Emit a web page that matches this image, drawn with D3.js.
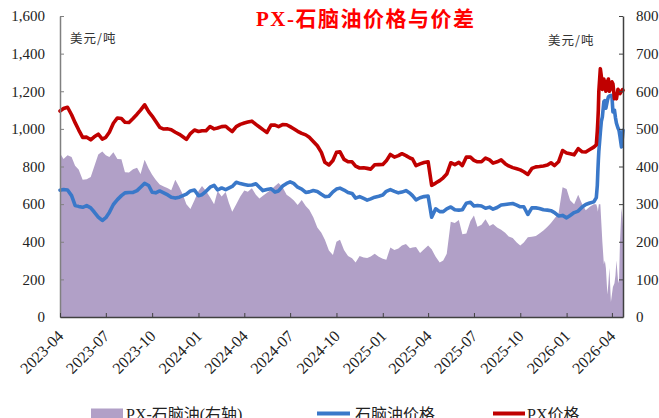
<!DOCTYPE html>
<html><head><meta charset="utf-8">
<script src="https://cdn.jsdelivr.net/npm/d3@7/dist/d3.min.js"></script>
<style>body{margin:0;background:#fff}svg{display:block}</style>
</head><body>
<svg id="chart" width="659" height="418"></svg>
<script>
// ---------------- data ----------------
const dates = [
"2023-04-01","2023-04-08","2023-04-16","2023-04-24","2023-05-01","2023-05-08","2023-05-16","2023-05-24",
"2023-06-01","2023-06-08","2023-06-16","2023-06-24","2023-07-01","2023-07-08","2023-07-16","2023-07-24",
"2023-08-01","2023-08-08","2023-08-16","2023-08-24","2023-09-01","2023-09-08","2023-09-16","2023-09-24",
"2023-10-01","2023-10-08","2023-10-16","2023-10-24","2023-11-01","2023-11-08","2023-11-16","2023-11-24",
"2023-12-01","2023-12-08","2023-12-16","2023-12-24","2024-01-01","2024-01-08","2024-01-16","2024-01-24",
"2024-02-01","2024-02-08","2024-02-16","2024-02-24","2024-03-01","2024-03-08","2024-03-16","2024-03-24",
"2024-04-01","2024-04-08","2024-04-16","2024-04-24","2024-05-01","2024-05-08","2024-05-16","2024-05-24",
"2024-06-01","2024-06-08","2024-06-16","2024-06-24","2024-07-01","2024-07-08","2024-07-16","2024-07-24",
"2024-08-01","2024-08-08","2024-08-16","2024-08-24","2024-09-01","2024-09-08","2024-09-16","2024-09-24",
"2024-10-01","2024-10-08","2024-10-16","2024-10-24","2024-11-01","2024-11-08","2024-11-16","2024-11-24",
"2024-12-01","2024-12-08","2024-12-16","2024-12-24","2025-01-01","2025-01-08","2025-01-16","2025-01-24",
"2025-02-01","2025-02-08","2025-02-16","2025-02-24","2025-03-01","2025-03-08","2025-03-16","2025-03-24",
"2025-04-01","2025-04-08","2025-04-16","2025-04-24","2025-05-01","2025-05-08","2025-05-16","2025-05-24",
"2025-06-01","2025-06-08","2025-06-16","2025-06-24","2025-07-01","2025-07-08","2025-07-16","2025-07-24",
"2025-08-01","2025-08-08","2025-08-16","2025-08-24","2025-09-01","2025-09-08","2025-09-16","2025-09-24",
"2025-10-01","2025-10-08","2025-10-16","2025-10-24","2025-11-01","2025-11-08","2025-11-16","2025-11-24",
"2025-12-01","2025-12-08","2025-12-16","2025-12-24","2026-01-01","2026-01-08","2026-01-16","2026-01-24",
"2026-02-01","2026-02-08","2026-02-16","2026-02-24",
"2026-03-01","2026-03-03","2026-03-04","2026-03-05","2026-03-06","2026-03-09","2026-03-11","2026-03-13",
"2026-03-16","2026-03-18","2026-03-20","2026-03-23","2026-03-25","2026-03-27","2026-03-30","2026-04-01",
"2026-04-03","2026-04-06","2026-04-08","2026-04-10","2026-04-13","2026-04-15","2026-04-17","2026-04-20",
"2026-04-22","2026-04-23"
];

const pxPrice = [
1095,1108,1115,1075, 1033,995,955,956, 942,958,972,946, 955,982,1030,1058,
1055,1035,1034,1055, 1078,1100,1128,1092, 1068,1040,1008,999, 1000,995,982,971,
958,944,975,994, 986,990,990,1012, 1000,1005,1012,1014, 1000,986,1012,1024,
1031,1036,1041,1024, 1010,996,981,1020, 1020,1012,1023,1022, 1012,1001,987,976,
968,955,933,910, 875,822,808,832, 875,878,838,825, 825,802,792,793,
790,786,809,810, 811,830,864,850, 858,868,858,845, 840,805,814,821,
825,700,712,725, 740,760,820,810, 822,805,850,850, 833,825,825,845,
835,818,825,835, 815,803,794,788, 782,772,758,790, 798,800,803,808,
820,805,825,885, 872,868,862,895, 878,877,890,903,
915,990,1040,1100,1200,1320,1280,1210, 1265,1240,1200,1250,1265,1200,1220,1250,
1240,1160,1170,1160,1210,1200,1188,1200, 1209,1205
];

const naphthaPrice = [
674,678,675,645, 593,588,583,592, 580,558,531,513, 528,556,598,624,
645,660,662,662, 672,690,710,699, 663,660,670,660, 649,636,632,637,
645,653,670,675, 645,650,668,690, 700,675,686,677, 685,694,716,709,
704,700,702,708, 690,672,678,682, 664,670,696,710, 718,710,690,680,
662,665,672,667, 652,640,642,665, 680,685,675,662, 657,632,640,630,
621,628,637,642, 648,668,677,668, 660,664,672,658, 645,623,634,640,
643,530,575,560, 560,575,585,570, 568,570,605,610, 590,593,590,578,
584,573,582,595, 598,601,603,595, 586,586,545,580, 580,577,570,568,
565,555,537,540, 527,540,555,563, 585,598,606,612,
635,700,770,830,880,980,1040,1064, 1145,1150,1110,1150,1170,1175,1178,1175,
1090,1100,1060,1030,1005,993,960,904, 960,993
];

const spread = [
435,420,430,425, 402,392,365,366, 372,400,432,440, 430,425,438,420,
419,385,384,393, 397,380,418,395, 378,365,352,347, 342,337,365,345,
325,300,287,310, 335,348,335,318, 300,335,320,332, 305,280,300,320,
336,333,342,325, 315,322,330,338, 348,356,345,325, 318,310,298,311,
295,285,265,238, 224,205,177,165, 200,205,178,162, 156,145,162,158,
157,161,168,160, 155,152,185,178, 182,190,194,183, 185,186,170,180,
190,180,160,145, 150,168,253,250, 258,220,222,255, 270,240,245,260,
242,247,238,232, 224,214,210,198, 190,198,212,213, 215,222,230,240,
250,262,275,345, 340,310,300,325, 300,284,293,300,
300,290,280,290,300,300,250,200, 140,150,130,60,90,130,40,60,
80,90,110,150,100,90,200,290, 265,240
];

const leftTicks = [0,200,400,600,800,1000,1200,1400,1600];
const rightTicks = [0,100,200,300,400,500,600,700,800];
const xTickLabels = ["2023-04","2023-07","2023-10","2024-01","2024-04","2024-07",
  "2024-10","2025-01","2025-04","2025-07","2025-10","2026-01","2026-04"];
const seriesNames = ["PX-石脑油(右轴)","石脑油价格","PX价格"];
const xStart = "2023-04-01", xEnd = "2026-04-23";

// ---------------- chart ----------------
const svg = d3.select("#chart");
const parse = d3.timeParse("%Y-%m-%d");
const parseM = d3.timeParse("%Y-%m");
const L = 60, R = 623, T = 16, B = 317;
const serif = "'Liberation Serif','Times New Roman','Noto Sans CJK SC',serif";
const cjk = "'Noto Sans CJK SC','Liberation Serif',sans-serif";

const x = d3.scaleTime().domain([parse(xStart), parse(xEnd)]).range([L, R]);
const yL = d3.scaleLinear().domain([0, 1600]).range([B, T]);
const yR = d3.scaleLinear().domain([0, 800]).range([B, T]);

const data = dates.map((d, i) => ({date: parse(d), px: pxPrice[i], nap: naphthaPrice[i], sp: spread[i]}));

// area (spread, right axis)
svg.append("path").datum(data)
  .attr("fill", "#B1A0C7")
  .attr("d", d3.area().x(d => x(d.date)).y0(yR(0)).y1(d => yR(d.sp)));

// naphtha line
svg.append("path").datum(data)
  .attr("fill", "none").attr("stroke", "#3A78C9").attr("stroke-width", 3.6)
  .attr("stroke-linejoin", "round").attr("stroke-linecap", "round")
  .attr("d", d3.line().x(d => x(d.date)).y(d => yL(d.nap)));

// PX line
svg.append("path").datum(data)
  .attr("fill", "none").attr("stroke", "#C00000").attr("stroke-width", 3.6)
  .attr("stroke-linejoin", "round").attr("stroke-linecap", "round")
  .attr("d", d3.line().x(d => x(d.date)).y(d => yL(d.px)));

// left axis
const gL = svg.append("g").attr("transform", `translate(${L},0)`)
  .call(d3.axisLeft(yL).tickValues(leftTicks).tickSizeInner(-4).tickSizeOuter(0).tickPadding(15)
    .tickFormat(d3.format(",")));
gL.select(".domain").attr("stroke", "#808080").attr("stroke-width", 1.5);
gL.selectAll(".tick line").attr("stroke", "#808080");
gL.selectAll("text").attr("font-family", serif).attr("font-size", 15).attr("fill", "#222");

// right axis
const gR = svg.append("g").attr("transform", `translate(${R},0)`)
  .call(d3.axisRight(yR).tickValues(rightTicks).tickSizeInner(-4).tickSizeOuter(0).tickPadding(13));
gR.select(".domain").attr("stroke", "#404040").attr("stroke-width", 1.5);
gR.selectAll(".tick line").attr("stroke", "#404040");
gR.selectAll("text").attr("font-family", serif).attr("font-size", 15).attr("fill", "#222");

// bottom axis
const gB = svg.append("g").attr("transform", `translate(0,${B})`)
  .call(d3.axisBottom(x).tickValues(xTickLabels.map(parseM)).tickSizeInner(-4).tickSizeOuter(0)
    .tickFormat(d3.timeFormat("%Y-%m")));
gB.select(".domain").attr("stroke", "#404040").attr("stroke-width", 1.5);
gB.selectAll(".tick line").attr("stroke", "#404040");
gB.selectAll("text")
  .attr("font-family", serif).attr("font-size", 16).attr("fill", "#222")
  .attr("x", 0).attr("y", 0).attr("dy", null)
  .attr("transform", "translate(4,20) rotate(-45)")
  .attr("text-anchor", "end");

// title
svg.append("text").attr("x", 256).attr("y", 26)
  .attr("font-family", "'Liberation Serif','Noto Sans CJK SC',serif")
  .attr("font-weight", "bold").attr("font-size", 21).attr("letter-spacing", "1.5px")
  .attr("fill", "#FF0000").text("PX-石脑油价格与价差");

// unit labels
svg.append("text").attr("x", 70).attr("y", 43).attr("font-family", cjk)
  .attr("font-size", 12.5).attr("letter-spacing", "1px").attr("fill", "#333").text("美元/吨");
svg.append("text").attr("x", 548).attr("y", 45).attr("font-family", cjk)
  .attr("font-size", 12.5).attr("letter-spacing", "1px").attr("fill", "#333").text("美元/吨");

// legend
const lg = svg.append("g");
lg.append("rect").attr("x", 91).attr("y", 408.5).attr("width", 32).attr("height", 12).attr("fill", "#B1A0C7");
lg.append("text").attr("x", 126).attr("y", 420).attr("font-family", serif).attr("font-size", 16)
  .attr("fill", "#222").text(seriesNames[0]);
lg.append("line").attr("x1", 317).attr("x2", 350).attr("y1", 413.5).attr("y2", 413.5)
  .attr("stroke", "#3A78C9").attr("stroke-width", 4);
lg.append("text").attr("x", 355).attr("y", 420).attr("font-family", serif).attr("font-size", 16)
  .attr("fill", "#222").text(seriesNames[1]);
lg.append("line").attr("x1", 493).attr("x2", 525).attr("y1", 413.5).attr("y2", 413.5)
  .attr("stroke", "#C00000").attr("stroke-width", 4);
lg.append("text").attr("x", 527).attr("y", 420).attr("font-family", serif).attr("font-size", 16)
  .attr("fill", "#222").text(seriesNames[2]);
</script>
</body></html>
